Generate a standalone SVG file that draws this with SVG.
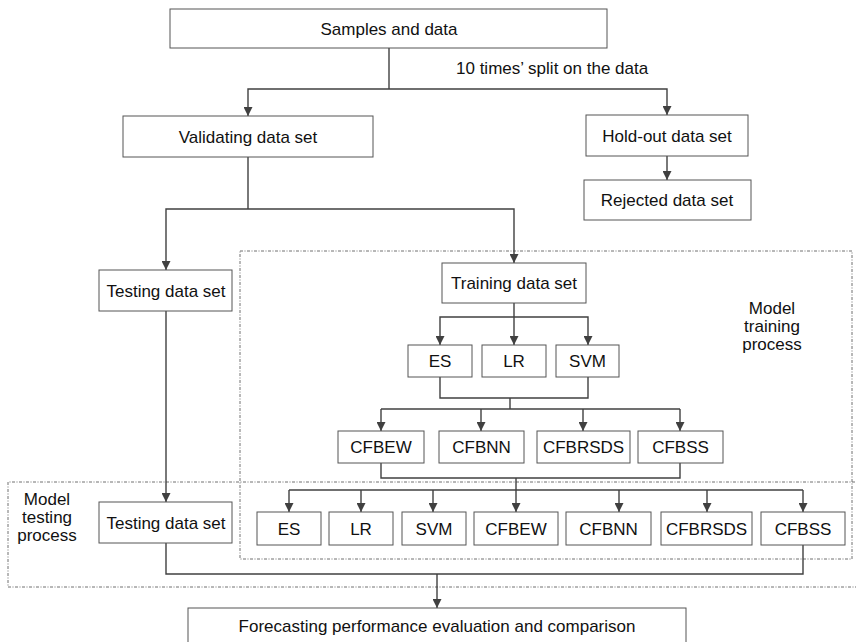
<svg xmlns="http://www.w3.org/2000/svg" width="856" height="642" viewBox="0 0 856 642">
<style>
  .box { fill: #ffffff; stroke: #555555; stroke-width: 1; }
  .lbl { font-family: "Liberation Sans", Arial, sans-serif; font-size: 17px; fill: #111111; text-anchor: middle; }
  .con { fill: none; stroke: #404040; stroke-width: 1.4; }
  .region { fill: none; stroke: #707070; stroke-width: 1; stroke-dasharray: 3 1.5 1 1.5; }
</style>
<defs>
  <marker id="arr" viewBox="0 0 10 10" refX="10" refY="5" markerWidth="9" markerHeight="9" markerUnits="userSpaceOnUse" orient="auto">
    <path d="M0,0 L10,5 L0,10 Z" fill="#404040"/>
  </marker>
</defs>
<rect width="856" height="642" fill="#ffffff"/>

<g id="regions">
  <rect class="region" x="240" y="251" width="612" height="308"/>
  <path class="region" d="M862,482 H8 V587 H862"/>
  <text class="lbl" x="772" y="314">Model</text>
  <text class="lbl" x="772" y="332">training</text>
  <text class="lbl" x="772" y="350">process</text>
  <text class="lbl" x="47" y="505">Model</text>
  <text class="lbl" x="47" y="523">testing</text>
  <text class="lbl" x="47" y="541">process</text>
</g>

<g id="connectors">
  <path class="con" d="M389,48 V89"/>
  <path class="con" d="M389,89 H248 V116" marker-end="url(#arr)"/>
  <path class="con" d="M389,89 H667 V115" marker-end="url(#arr)"/>
  <text class="lbl" x="456" y="73.5" style="text-anchor:start">10 times’ split on the data</text>
  <path class="con" d="M667,156 V180" marker-end="url(#arr)"/>
  <path class="con" d="M248,157 V209"/>
  <path class="con" d="M248,209 H166 V270" marker-end="url(#arr)"/>
  <path class="con" d="M248,209 H514 V263" marker-end="url(#arr)"/>
  <path class="con" d="M166,311 V502" marker-end="url(#arr)"/>
  <path class="con" d="M514,303 V345" marker-end="url(#arr)"/>
  <path class="con" d="M514,317 H440 V345" marker-end="url(#arr)"/>
  <path class="con" d="M514,317 H588 V345" marker-end="url(#arr)"/>
  <path class="con" d="M440,377 V398 H588 V377"/>
  <path class="con" d="M510,398 V409"/>
  <path class="con" d="M381,409 H680"/>
  <path class="con" d="M381,409 V431" marker-end="url(#arr)"/>
  <path class="con" d="M481,409 V431" marker-end="url(#arr)"/>
  <path class="con" d="M583,409 V431" marker-end="url(#arr)"/>
  <path class="con" d="M680,409 V431" marker-end="url(#arr)"/>
  <path class="con" d="M381,463 V478 H680 V463"/>
  <path class="con" d="M516,478 V490"/>
  <path class="con" d="M289,490 H803"/>
  <path class="con" d="M289,490 V512" marker-end="url(#arr)"/>
  <path class="con" d="M361,490 V512" marker-end="url(#arr)"/>
  <path class="con" d="M433,490 V512" marker-end="url(#arr)"/>
  <path class="con" d="M516,490 V512" marker-end="url(#arr)"/>
  <path class="con" d="M619,490 V512" marker-end="url(#arr)"/>
  <path class="con" d="M707,490 V512" marker-end="url(#arr)"/>
  <path class="con" d="M803,490 V512" marker-end="url(#arr)"/>
  <path class="con" d="M166,543 V574 H803 V545"/>
  <path class="con" d="M437,574 V608" marker-end="url(#arr)"/>
</g>

<g id="samples"><rect class="box" x="170" y="9" width="437" height="39"/><text class="lbl" x="389" y="34.5">Samples and data</text></g>
<g id="validating"><rect class="box" x="123" y="116" width="250" height="41"/><text class="lbl" x="248" y="142.5">Validating data set</text></g>
<g id="holdout"><rect class="box" x="586" y="115" width="162" height="41"/><text class="lbl" x="667" y="141.5">Hold-out data set</text></g>
<g id="rejected"><rect class="box" x="584" y="180" width="167" height="40"/><text class="lbl" x="667" y="206">Rejected data set</text></g>
<g id="testing1"><rect class="box" x="99" y="270" width="133" height="41"/><text class="lbl" x="166" y="296.5">Testing data set</text></g>
<g id="training"><rect class="box" x="442" y="263" width="144" height="40"/><text class="lbl" x="514" y="289">Training data set</text></g>
<g id="es1"><rect class="box" x="408" y="345" width="64" height="32"/><text class="lbl" x="440" y="367">ES</text></g>
<g id="lr1"><rect class="box" x="482" y="345" width="64" height="32"/><text class="lbl" x="514" y="367">LR</text></g>
<g id="svm1"><rect class="box" x="556" y="345" width="63" height="32"/><text class="lbl" x="587.5" y="367">SVM</text></g>
<g id="cfbew1"><rect class="box" x="338" y="431" width="86" height="32"/><text class="lbl" x="381" y="453">CFBEW</text></g>
<g id="cfbnn1"><rect class="box" x="439" y="431" width="85" height="32"/><text class="lbl" x="481.5" y="453">CFBNN</text></g>
<g id="cfbrsds1"><rect class="box" x="537" y="431" width="93" height="32"/><text class="lbl" x="583.5" y="453">CFBRSDS</text></g>
<g id="cfbss1"><rect class="box" x="638" y="431" width="85" height="32"/><text class="lbl" x="680.5" y="453">CFBSS</text></g>
<g id="testing2"><rect class="box" x="99" y="502" width="133" height="41"/><text class="lbl" x="166" y="528.5">Testing data set</text></g>
<g id="es2"><rect class="box" x="257" y="512" width="64" height="33"/><text class="lbl" x="289" y="534.5">ES</text></g>
<g id="lr2"><rect class="box" x="329" y="512" width="64" height="33"/><text class="lbl" x="361" y="534.5">LR</text></g>
<g id="svm2"><rect class="box" x="402" y="512" width="64" height="33"/><text class="lbl" x="434" y="534.5">SVM</text></g>
<g id="cfbew2"><rect class="box" x="474" y="512" width="84" height="33"/><text class="lbl" x="516" y="534.5">CFBEW</text></g>
<g id="cfbnn2"><rect class="box" x="566" y="512" width="85" height="33"/><text class="lbl" x="608.5" y="534.5">CFBNN</text></g>
<g id="cfbrsds2"><rect class="box" x="661" y="512" width="91" height="33"/><text class="lbl" x="706.5" y="534.5">CFBRSDS</text></g>
<g id="cfbss2"><rect class="box" x="761" y="512" width="84" height="33"/><text class="lbl" x="803" y="534.5">CFBSS</text></g>
<g id="forecasting"><rect class="box" x="188" y="608" width="498" height="40"/><text class="lbl" x="437" y="632">Forecasting performance evaluation and comparison</text></g>
</svg>
